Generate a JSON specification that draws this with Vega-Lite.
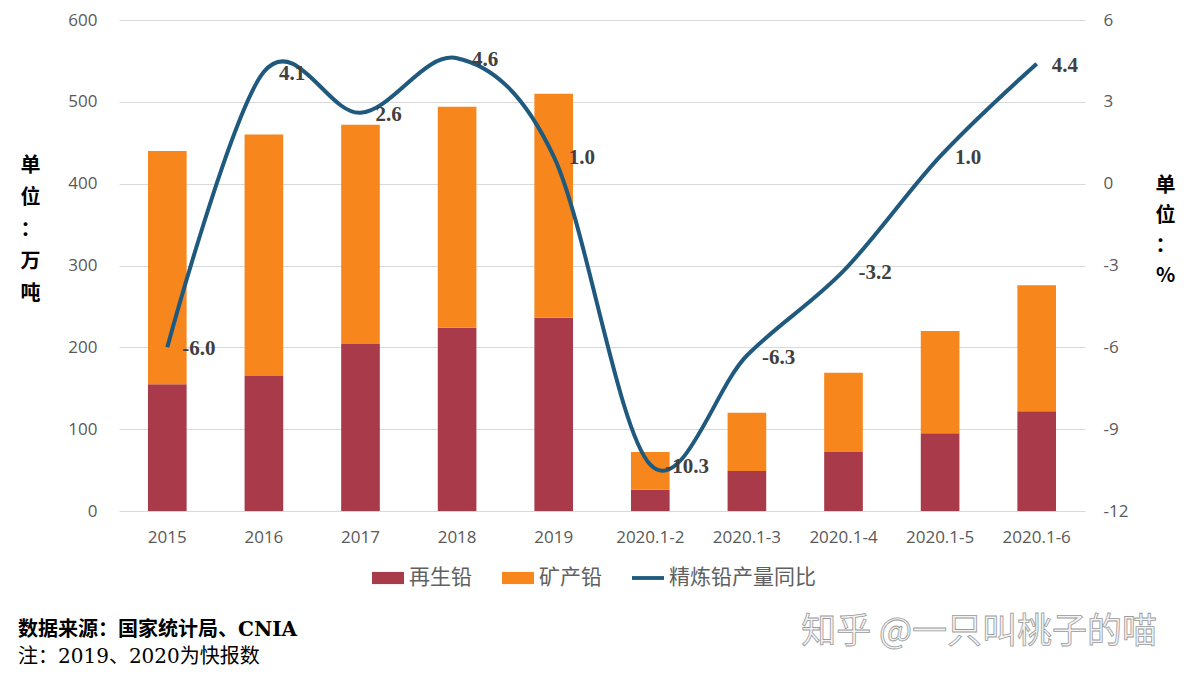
{
  "$schema": "https://vega.github.io/schema/vega-lite/v6.json",
  "width": 966,
  "height": 491,
  "autosize": {"type": "none"},
  "padding": {"left": 119, "top": 20, "right": 105, "bottom": 173},
  "background": "white",
  "config": {
    "view": {"stroke": null},
    "locale": {"number": {"decimal": ".", "thousands": ",", "grouping": [3], "currency": ["", ""], "minus": "-"}},
    "axis": {"labelFont": "Open Sans", "labelFontSize": 17, "labelColor": "#595959", "domain": false, "ticks": false, "gridColor": "#d9d9d9", "gridWidth": 1}
  },
  "title": {
    "text": "数据来源：国家统计局、CNIA",
    "subtitle": "注：2019、2020为快报数",
    "orient": "bottom",
    "anchor": "start",
    "frame": "bounds",
    "offset": -30,
    "dx": -2,
    "font": "DejaVu Serif, Noto Sans CJK SC",
    "fontSize": 20,
    "fontWeight": "bold",
    "color": "#000000",
    "subtitleFont": "DejaVu Serif, Noto Sans CJK SC",
    "subtitleFontSize": 20,
    "subtitleColor": "#000000",
    "subtitlePadding": 7
  },
  "datasets": {
    "bars": [
      {"period": "2015", "type": "再生铅", "value": 155},
      {"period": "2015", "type": "矿产铅", "value": 285},
      {"period": "2016", "type": "再生铅", "value": 165},
      {"period": "2016", "type": "矿产铅", "value": 295},
      {"period": "2017", "type": "再生铅", "value": 204},
      {"period": "2017", "type": "矿产铅", "value": 268},
      {"period": "2018", "type": "再生铅", "value": 224},
      {"period": "2018", "type": "矿产铅", "value": 270},
      {"period": "2019", "type": "再生铅", "value": 236},
      {"period": "2019", "type": "矿产铅", "value": 274},
      {"period": "2020.1-2", "type": "再生铅", "value": 26},
      {"period": "2020.1-2", "type": "矿产铅", "value": 46},
      {"period": "2020.1-3", "type": "再生铅", "value": 49},
      {"period": "2020.1-3", "type": "矿产铅", "value": 71},
      {"period": "2020.1-4", "type": "再生铅", "value": 72},
      {"period": "2020.1-4", "type": "矿产铅", "value": 97},
      {"period": "2020.1-5", "type": "再生铅", "value": 95},
      {"period": "2020.1-5", "type": "矿产铅", "value": 125},
      {"period": "2020.1-6", "type": "再生铅", "value": 122},
      {"period": "2020.1-6", "type": "矿产铅", "value": 154}
    ],
    "yoy": [
      {"period": "2015", "yoy": -6.0},
      {"period": "2016", "yoy": 4.1},
      {"period": "2017", "yoy": 2.6},
      {"period": "2018", "yoy": 4.6},
      {"period": "2019", "yoy": 1.0},
      {"period": "2020.1-2", "yoy": -10.3},
      {"period": "2020.1-3", "yoy": -6.3},
      {"period": "2020.1-4", "yoy": -3.2},
      {"period": "2020.1-5", "yoy": 1.0},
      {"period": "2020.1-6", "yoy": 4.4}
    ]
  },
  "layer": [
    {
      "data": {"name": "bars"},
      "mark": {"type": "bar", "width": {"band": 0.4}},
      "encoding": {
        "x": {
          "field": "period", "type": "nominal", "sort": null,
          "scale": {"paddingInner": 0, "paddingOuter": 0},
          "axis": {"title": null, "labelAngle": 0, "labelPadding": 18, "grid": false}
        },
        "y": {
          "field": "value", "type": "quantitative", "stack": "zero",
          "scale": {"domain": [0, 600], "nice": false},
          "axis": {
            "values": [0, 100, 200, 300, 400, 500, 600],
            "grid": true,
            "labelPadding": 22,
            "title": ["单", "位", "：", "万", "吨"],
            "titleAngle": 0,
            "titleAlign": "center",
            "titleBaseline": "middle",
            "titleX": -89,
            "titleY": 145,
            "titleFont": "Noto Sans CJK SC",
            "titleFontSize": 20,
            "titleFontWeight": "bold",
            "titleColor": "#000000",
            "titleLineHeight": 32
          }
        },
        "order": {"field": "type", "sort": "ascending"},
        "color": {
          "field": "type", "type": "nominal",
          "scale": {"domain": ["再生铅", "矿产铅", "精炼铅产量同比"], "range": ["#a83a4a", "#f7861c", "#1f5a7e"]},
          "legend": {
            "title": null,
            "orient": "none",
            "legendX": 253,
            "legendY": 542,
            "direction": "horizontal",
            "labelFont": "Noto Sans CJK SC",
            "labelFontSize": 21,
            "labelColor": "#606060",
            "labelOffset": 5,
            "columnPadding": 30,
            "symbolSize": 1024,
            "symbolStrokeWidth": 0,
            "encode": {
              "symbols": {
                "update": {
                  "shape": {"signal": "datum.value === '精炼铅产量同比' ? 'M-1,-0.12H1V0.12H-1Z' : 'M-1,-0.38H1V0.38H-1Z'"},
                  "fill": {"signal": "scale('color', datum.value)"},
                  "stroke": {"value": "transparent"},
                  "opacity": {"value": 1}
                }
              }
            }
          }
        }
      }
    },
    {
      "data": {"name": "yoy"},
      "layer": [
        {
          "mark": {"type": "line", "interpolate": "cardinal", "strokeWidth": 4},
          "encoding": {
            "x": {"field": "period", "type": "nominal", "sort": null},
            "y": {
              "field": "yoy", "type": "quantitative",
              "scale": {"domain": [-12, 6], "nice": false},
              "axis": {
                "orient": "right",
                "values": [-12, -9, -6, -3, 0, 3, 6],
                "grid": false,
                "labelPadding": 18,
                "title": ["单", "位", "：", "%"],
                "titleAngle": 0,
                "titleAlign": "center",
                "titleBaseline": "middle",
                "titleX": 80,
                "titleY": 165,
                "titleFont": "Noto Sans CJK SC",
                "titleFontSize": 20,
                "titleFontWeight": "bold",
                "titleColor": "#000000",
                "titleLineHeight": 30
              }
            },
            "color": {"datum": "精炼铅产量同比"}
          }
        },
        {
          "mark": {"type": "text", "align": "left", "baseline": "middle", "dx": 15, "dy": 2, "font": "Liberation Serif", "fontSize": 21, "fontWeight": "bold", "color": "#404040"},
          "encoding": {
            "x": {"field": "period", "type": "nominal", "sort": null},
            "y": {"field": "yoy", "type": "quantitative"},
            "text": {"field": "yoy", "type": "quantitative", "format": ".1f"}
          }
        },
        {
          "data": {"values": [{"mark": "知乎 @一只叫桃子的喵"}]},
          "mark": {"type": "text", "align": "center", "baseline": "middle", "dx": 39, "font": "Noto Sans CJK SC", "fontSize": 35, "fill": "#f4f4f4", "stroke": "#9a9a9a", "strokeWidth": 0.8},
          "encoding": {
            "x": {"datum": "2020.1-5"},
            "y": {"datum": -16.45},
            "text": {"field": "mark"}
          }
        }
      ]
    }
  ],
  "resolve": {"scale": {"y": "independent"}}
}
